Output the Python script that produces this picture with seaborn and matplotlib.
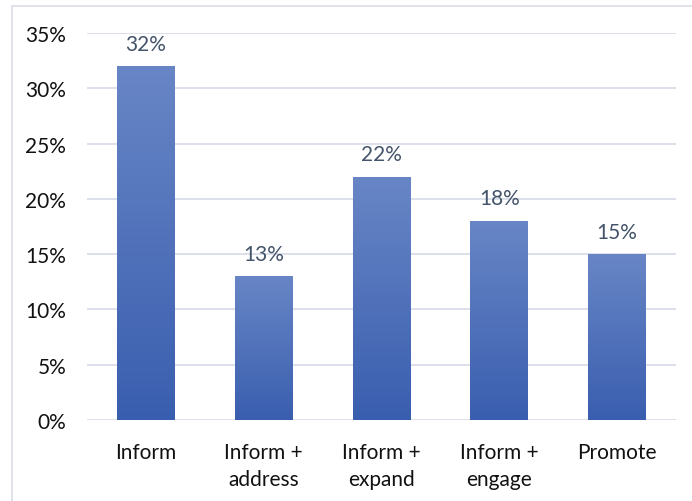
import numpy as np
import pandas as pd
import matplotlib
matplotlib.use("Agg")
import matplotlib.pyplot as plt
from matplotlib.colors import LinearSegmentedColormap
from matplotlib.patches import Rectangle
import seaborn as sns

categories = ["Inform", "Inform +\naddress", "Inform +\nexpand", "Inform +\nengage", "Promote"]
shares = [0.32, 0.13, 0.22, 0.18, 0.15]
yticks = [0, 0.05, 0.10, 0.15, 0.20, 0.25, 0.30, 0.35]
ytick_labels = ["0%", "5%", "10%", "15%", "20%", "25%", "30%", "35%"]

sns.set_theme(style="white")
plt.rcParams["font.family"] = ["Lato", "DejaVu Sans"]

df = pd.DataFrame({"category": categories, "share": shares})

fig = plt.figure(figsize=(6.92, 5.02), dpi=100)
ax = fig.add_axes([0.1257, 0.1614, 0.8513, 0.7709])

sns.barplot(data=df, x="category", y="share", color="#4A6DB8", width=0.49,
            saturation=1, ax=ax, zorder=2)

ax.set_ylim(0, 0.35)
ax.set_yticks(yticks)
ax.set_yticklabels(ytick_labels, fontsize=15, color="#111111")
ax.tick_params(axis="x", labelsize=15, colors="#111111", length=0, pad=16)
ax.tick_params(axis="y", length=0, pad=15)
for lbl in ax.get_xticklabels():
    lbl.set_linespacing(1.45)
ax.set_xlabel("")
ax.set_ylabel("")
ax.grid(axis="y", color="#DCE0EA", linewidth=1.4, zorder=0)
ax.set_axisbelow(True)
for s in ax.spines.values():
    s.set_visible(False)

# vertical gradient fill inside each bar, lighter at the top
cmap = LinearSegmentedColormap.from_list("bar_grad", ["#3A5EAF", "#6886C6"])
grad = np.linspace(0, 1, 256).reshape(-1, 1)
for patch in ax.patches:
    x0, y0 = patch.get_x(), patch.get_y()
    w, h = patch.get_width(), patch.get_height()
    im = ax.imshow(grad, cmap=cmap, aspect="auto", origin="lower",
                   extent=[x0, x0 + w, y0, y0 + h], zorder=3)
    im.set_clip_path(patch)
    patch.set_edgecolor("none")

ax.set_xlim(-0.5, len(categories) - 0.5)
ax.set_ylim(0, 0.35)

for i, v in enumerate(shares):
    ax.annotate(f"{round(v * 100)}%", (i, v), xytext=(0, 9),
                textcoords="offset points", ha="center", va="bottom",
                fontsize=15, color="#44546A", zorder=4)

# light frame around the chart area
fig.add_artist(Rectangle((12 / 692, -0.1), 1.2, 1.0 - 7 / 502 + 0.1,
                         transform=fig.transFigure, fill=False,
                         edgecolor="#DADDE3", linewidth=1.2))

fig.savefig("out.png", dpi=100)
